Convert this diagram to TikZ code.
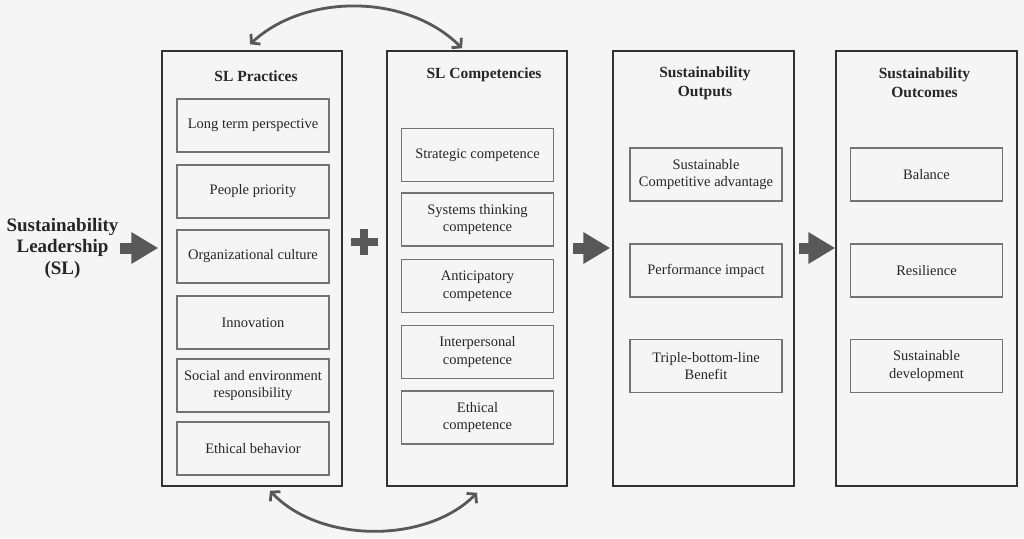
\documentclass[tikz,border=0pt]{standalone}
\usepackage{fontspec}
\setmainfont{Liberation Serif}
\usetikzlibrary{arrows.meta}
\definecolor{bgcol}{RGB}{245,245,245}
\definecolor{arrcol}{RGB}{88,88,88}
\definecolor{boxcol}{RGB}{115,115,115}
\definecolor{colcol}{RGB}{50,50,50}

\begin{document}
\begin{tikzpicture}[x=1pt, y=-1pt,
        colbox/.style={draw=colcol, line width=1.5pt, minimum width=180pt, minimum height=435pt, inner sep=0pt},
        itembox/.style={draw=boxcol, line width=1.2pt, minimum width=152pt, minimum height=53pt, inner sep=2pt, align=center, text=black!85, font=\fontsize{14.5}{17.5}\selectfont},
        coltitle/.style={align=center, text=black!85, font=\fontsize{15.5}{19}\selectfont\bfseries},
        blockarrow/.style={draw=arrcol, line width=11pt, -{Triangle[length=27pt,width=30pt]}},
        arcarrow/.style={draw=arrcol, line width=2.8pt, {Straight Barb[length=6pt,width=14pt]}-{Straight Barb[length=6pt,width=14pt]}}]
        \path[use as bounding box, fill=bgcol](0,0) rectangle (1024,538);
        % columns
        \node[colbox](prac) at (252,268.5){};
        \node[colbox](comp) at (477,268.5){};
        \node[colbox, minimum width=181pt](outp) at (703.5,268.5){};
        \node[colbox, minimum width=181pt](outc) at (926.5,268.5){};
        \node[coltitle](pracT) at (256,76){SL Practices};
        \node[coltitle](compT) at (484,75){SL Competencies};
        \node[coltitle](outpT) at (705,83){Sustainability\\Outputs};
        \node[coltitle](outcT) at (924.5,83){Sustainability\\Outcomes};
        % SL practices
        \node[itembox](p1) at (253,125.5){Long term perspective};
        \node[itembox](p2) at (253,191.5){People priority};
        \node[itembox](p3) at (253,256.5){Organizational culture};
        \node[itembox](p4) at (253,322.5){Innovation};
        \node[itembox](p5) at (253,385.5){Social and environment\\responsibility};
        \node[itembox](p6) at (253,448.5){Ethical behavior};
        % SL competencies
        \node[itembox](c1) at (477.5,155){Strategic competence};
        \node[itembox](c2) at (477.5,219.5){Systems thinking\\competence};
        \node[itembox](c3) at (477.5,286){Anticipatory\\competence};
        \node[itembox](c4) at (477.5,352){Interpersonal\\competence};
        \node[itembox](c5) at (477.5,417.5){Ethical\\competence};
        % outputs and outcomes
        \node[itembox](o1) at (706,174.5){Sustainable\\Competitive advantage};
        \node[itembox](o2) at (706,270.5){Performance impact};
        \node[itembox](o3) at (706,366){Triple-bottom-line\\Benefit};
        \node[itembox](r1) at (926.5,174.5){Balance};
        \node[itembox](r2) at (926.5,270.5){Resilience};
        \node[itembox](r3) at (926.5,366){Sustainable\\development};
        % SL and block arrows
        \node[align=center, inner sep=1pt, text=black!85, font=\fontsize{19}{21.5}\selectfont\bfseries](sl) at (62.5,248){Sustainability\\Leadership\\(SL)};
        \draw[blockarrow, shorten >=3pt](sl.east)--(prac.west |- sl.east);
        \draw[blockarrow, shorten <=5pt, shorten >=2pt](comp.east |- sl.east)--(outp.west |- sl.east);
        \draw[blockarrow, shorten <=4pt](outp.east |- sl.east)--(outc.west |- sl.east);
        \coordinate(plus) at (364,242);
        \draw[arrcol, line width=8pt]([xshift=-13.5pt]plus)--([xshift=13.5pt]plus) ([yshift=13pt]plus)--([yshift=-13pt]plus);
        % links between practices and competencies
        \coordinate(pracTop) at ([xshift=-2pt,yshift=6pt]prac.north);
        \coordinate(compTop) at ([xshift=-15pt,yshift=2pt]comp.north);
        \coordinate(pracBot) at ([xshift=18pt,yshift=-4pt]prac.south);
        \coordinate(compBot) at ([yshift=-6pt]comp.south);
        \draw[arcarrow](pracTop) .. controls +(55,-51) and +(-55,-55) .. (compTop);
        \draw[arcarrow](pracBot) .. controls +(50,53) and +(-50,51) .. (compBot);
    \end{tikzpicture}
\end{document}
